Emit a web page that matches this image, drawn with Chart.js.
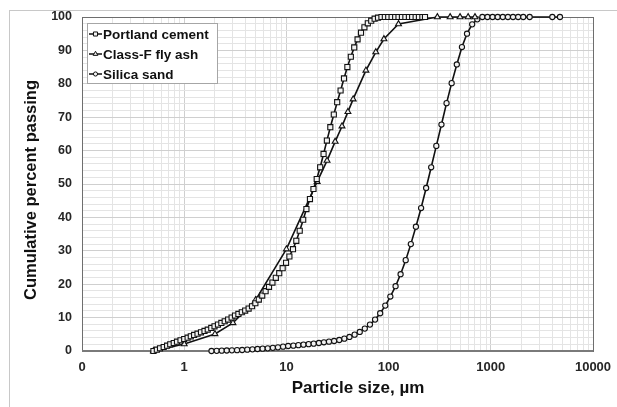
<!DOCTYPE html>
<html>
<head>
<meta charset="utf-8">
<script src="https://cdn.jsdelivr.net/npm/chart.js@4/dist/chart.umd.min.js"></script>
<style>
  body { margin: 0; background: #fff; }
  #wrap { position: relative; width: 617px; height: 407px; overflow: hidden; }
  #frame { position: absolute; left: 9px; top: 10px; width: 700px; height: 500px;
           border-left: 1px solid #c8c8c8; border-top: 1px solid #c8c8c8; }
  #chart { position: absolute; left: 0; top: 0; }
</style>
</head>
<body>
<div id="wrap">
  <div id="frame"></div>
  <canvas id="chart" width="617" height="407"></canvas>
</div>
<script>
// DATA - particle size (um) and cumulative percent passing
const cementSize = [0.50, 0.54, 0.58, 0.63, 0.68, 0.73, 0.79, 0.85, 0.92, 1.00,
    1.08, 1.16, 1.25, 1.35, 1.46, 1.58, 1.70, 1.84, 1.98, 2.14,
    2.31, 2.49, 2.69, 2.91, 3.14, 3.39, 3.66, 3.95, 4.27, 4.61,
    4.97, 5.37, 5.80, 6.26, 6.76, 7.30, 7.88, 8.51, 9.19, 9.92,
    10.7, 11.6, 12.5, 13.5, 14.6, 15.7, 17.0, 18.4, 19.8, 21.4,
    23.1, 24.9, 26.9, 29.1, 31.4, 33.9, 36.6, 39.5, 42.7, 46.1,
    49.7, 53.7, 58.0, 62.6, 67.6, 73.0, 78.8, 85.1, 91.9, 99.2,
    107, 116, 125, 135, 146, 158, 170, 184, 198, 214, 227];
const cementPassing = [0, 0.4, 0.8, 1.2, 1.6, 2.0, 2.4, 2.8, 3.2, 3.6,
    4.0, 4.4, 4.8, 5.2, 5.6, 6.0, 6.4, 6.9, 7.4, 7.9,
    8.4, 8.9, 9.4, 10.0, 10.6, 11.1, 11.6, 12.1, 12.7, 13.4,
    14.3, 15.4, 16.6, 17.9, 19.2, 20.5, 21.9, 23.3, 24.8, 26.4,
    28.3, 30.5, 33.0, 36.0, 39.3, 42.5, 45.5, 48.5, 51.5, 55.0,
    59.0, 63.0, 67.0, 70.8, 74.5, 78.0, 81.6, 85.0, 88.1, 90.9,
    93.3, 95.3, 96.9, 98.1, 98.9, 99.5, 99.8, 100, 100, 100,
    100, 100, 100, 100, 100, 100, 100, 100, 100, 100, 100];

const flyAshSize = [0.5, 1, 2, 3, 5, 10, 20, 25, 30, 35, 40, 45, 60, 75, 90, 125,
    300, 400, 500, 600, 700];
const flyAshPassing = [0, 2.1, 5.1, 8.4, 15.3, 30.5, 50.7, 57.0, 62.7, 67.3, 71.6, 75.4,
    84.0, 89.5, 93.4, 97.9, 100, 100, 100, 100, 100];

const sandSize = [1.85, 2.08, 2.33, 2.61, 2.93, 3.29, 3.69, 4.14, 4.65, 5.22,
    5.85, 6.57, 7.37, 8.27, 9.28, 10.4, 11.7, 13.1, 14.7, 16.5,
    18.5, 20.8, 23.3, 26.1, 29.3, 32.9, 36.9, 41.4, 46.5, 52.2,
    58.5, 65.7, 73.7, 82.7, 92.8, 104, 117, 131, 147, 165,
    185, 208, 233, 261, 293, 329, 369, 414, 465, 522,
    585, 657, 737, 827, 928, 1041, 1168, 1311, 1471, 1650,
    1852, 2078, 2400, 4000, 4750];
const sandPassing = [0, 0.05, 0.1, 0.15, 0.2, 0.25, 0.3, 0.4, 0.5, 0.6,
    0.7, 0.8, 0.95, 1.1, 1.3, 1.5, 1.6, 1.75, 1.9, 2.05,
    2.2, 2.4, 2.6, 2.8, 3.0, 3.3, 3.7, 4.2, 4.9, 5.7,
    6.7, 7.9, 9.4, 11.3, 13.6, 16.3, 19.4, 23.0, 27.2, 32.0,
    37.2, 42.8, 48.8, 55.0, 61.4, 67.8, 74.2, 80.2, 85.8, 91.0,
    95.0, 97.8, 99.3, 100, 100, 100, 100, 100, 100, 100,
    100, 100, 100, 100, 100];

const seriesNames = ['Portland cement', 'Class-F fly ash', 'Silica sand'];
const xDecades = [0.1, 1, 10, 100, 1000, 10000];
const xTickLabels = ['0', '1', '10', '100', '1000', '10000'];
const yTickLabels = [0, 10, 20, 30, 40, 50, 60, 70, 80, 90, 100];
const xTitle = 'Particle size, µm';
const yTitle = 'Cumulative percent passing';

function pairs(xs, ys) {
    return xs.map(function(x, i) { return {x: x, y: ys[i]}; });
}

const FONT = "'Liberation Sans', Arial, sans-serif";

// log ticks: every 1..9 multiple in each decade
const xTickValues = [];
xDecades.forEach(function(d, i) {
    if (i === xDecades.length - 1) { xTickValues.push(d); return; }
    for (let m = 1; m <= 9; m++) xTickValues.push(+(d * m).toPrecision(3));
});

function isDecade(v) {
    return xDecades.some(function(d) { return Math.abs(d - v) < d * 1e-6; });
}

const seriesStyle = {
    borderColor: '#111111',
    borderWidth: 1.6,
    pointBorderColor: '#111111',
    pointBackgroundColor: '#f2f2f2',
    pointBorderWidth: 1.1,
    tension: 0,
    clip: false
};

// legend drawn inside the plot, with a box round it
const boxLegend = {
    id: 'boxLegend',
    afterDraw: function(chart) {
        const ctx = chart.ctx;
        const x0 = 87, y0 = 23, w = 130, h = 60;
        ctx.save();
        ctx.fillStyle = '#ffffff';
        ctx.fillRect(x0, y0, w, h);
        ctx.strokeStyle = '#a6a6a6';
        ctx.lineWidth = 1;
        ctx.strokeRect(x0 + 0.5, y0 + 0.5, w, h);
        chart.data.datasets.forEach(function(ds, i) {
            const y = y0 + 11 + i * 20;
            ctx.strokeStyle = '#111111';
            ctx.lineWidth = 1.5;
            ctx.beginPath();
            ctx.moveTo(x0 + 2, y);
            ctx.lineTo(x0 + 15, y);
            ctx.stroke();
            ctx.fillStyle = '#f2f2f2';
            ctx.strokeStyle = '#111111';
            ctx.lineWidth = 1;
            Chart.helpers.drawPoint(ctx, {pointStyle: ds.pointStyle, radius: ds.pointRadius * 0.8, rotation: 0, borderWidth: 1}, x0 + 8.5, y);
            ctx.fillStyle = '#111111';
            ctx.font = 'bold 13.5px ' + FONT;
            ctx.textBaseline = 'middle';
            ctx.textAlign = 'left';
            ctx.fillText(ds.label, x0 + 16, y + 1);
        });
        ctx.restore();
    }
};

// plot area border and axis titles (titles sit off-centre in the original)
const plotBorder = {
    id: 'plotBorder',
    beforeDatasetsDraw: function(chart) {
        const a = chart.chartArea;
        const ctx = chart.ctx;
        ctx.save();
        ctx.strokeStyle = '#6e6e6e';
        ctx.lineWidth = 1;
        ctx.strokeRect(Math.round(a.left) + 0.5, Math.round(a.top) + 0.5,
            Math.round(a.right - a.left), Math.round(a.bottom - a.top));
        ctx.strokeStyle = '#7a7a7a';
        ctx.lineWidth = 2;
        ctx.beginPath();
        ctx.moveTo(a.left, a.bottom);
        ctx.lineTo(a.right, a.bottom);
        ctx.stroke();

        ctx.fillStyle = '#111111';
        ctx.textAlign = 'center';
        ctx.textBaseline = 'middle';
        ctx.font = 'bold 17px ' + FONT;
        ctx.fillText(xTitle, 358, 388);
        ctx.translate(31, 190);
        ctx.rotate(-Math.PI / 2);
        ctx.font = 'bold 16.5px ' + FONT;
        ctx.fillText(yTitle, 0, 0);
        ctx.restore();
    }
};

const ctx = document.getElementById('chart').getContext('2d');
const psdChart = new Chart(ctx, {
    type: 'line',
    data: {
        datasets: [
            Object.assign({label: seriesNames[0], data: pairs(cementSize, cementPassing),
                pointStyle: 'rect', pointRadius: 3.6}, seriesStyle),
            Object.assign({label: seriesNames[1], data: pairs(flyAshSize, flyAshPassing),
                pointStyle: 'triangle', pointRadius: 3.4}, seriesStyle),
            Object.assign({label: seriesNames[2], data: pairs(sandSize, sandPassing),
                pointStyle: 'circle', pointRadius: 2.6}, seriesStyle)
        ]
    },
    options: {
        responsive: false,
        animation: false,
        layout: { padding: {left: 0, right: 24, top: 17, bottom: 0} },
        plugins: {
            legend: { display: false },
            tooltip: { enabled: false }
        },
        scales: {
            x: {
                type: 'logarithmic',
                min: 0.1,
                max: 10000,
                afterBuildTicks: function(scale) {
                    scale.ticks = xTickValues.map(function(v) { return {value: v, major: isDecade(v)}; });
                },
                afterFit: function(scale) {
                    scale.height = 56;
                    scale.paddingLeft = 0;
                    scale.paddingRight = 0;
                },
                ticks: {
                    autoSkip: false,
                    maxRotation: 0,
                    padding: 9,
                    color: '#262626',
                    font: {family: FONT, size: 13, weight: 'bold'},
                    callback: function(value) {
                        const i = xDecades.findIndex(function(d) { return Math.abs(d - value) < d * 1e-6; });
                        return i >= 0 ? xTickLabels[i] : '';
                    }
                },
                grid: {
                    drawTicks: false,
                    color: function(c) { return c.tick && isDecade(c.tick.value) ? '#cfcfcf' : '#e4e4e4'; },
                    lineWidth: 1
                },
                border: { display: false }
            },
            y: {
                min: 0,
                max: 100,
                afterBuildTicks: function(scale) {
                    const t = [];
                    for (let v = 0; v <= 100; v += 2) t.push({value: v});
                    scale.ticks = t;
                },
                afterFit: function(scale) {
                    scale.width = 82;
                    scale.paddingTop = 0;
                    scale.paddingBottom = 0;
                },
                ticks: {
                    autoSkip: false,
                    padding: 10,
                    color: '#262626',
                    font: {family: FONT, size: 12.5, weight: 'bold'},
                    callback: function(value) {
                        return yTickLabels.indexOf(value) >= 0 ? String(value) : '';
                    }
                },
                grid: {
                    drawTicks: false,
                    color: function(c) { return c.tick && c.tick.value % 10 === 0 ? '#cfcfcf' : '#e4e4e4'; },
                    lineWidth: 1
                },
                border: { display: false }
            }
        }
    },
    plugins: [plotBorder, boxLegend]
});
</script>
</body>
</html>
